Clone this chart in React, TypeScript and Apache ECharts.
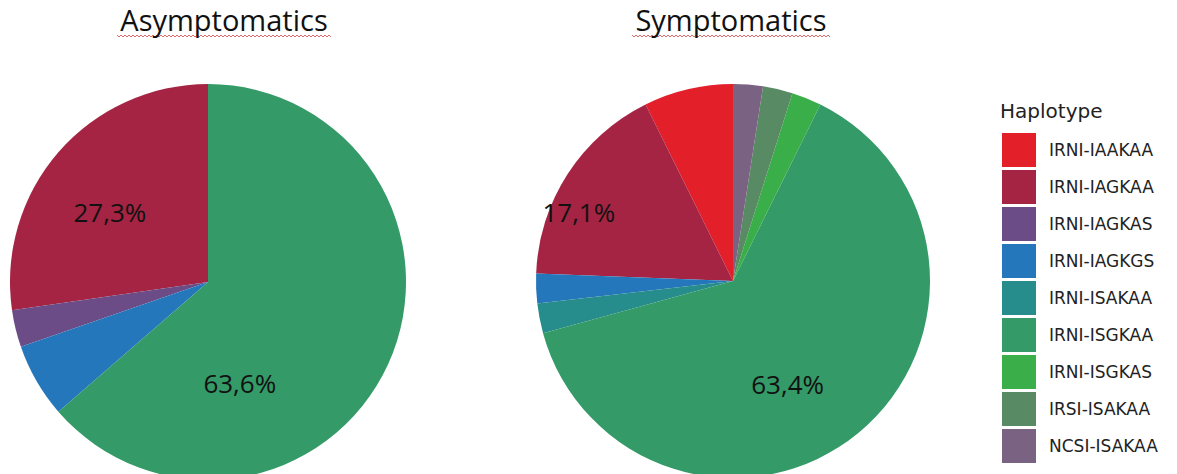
import React, { useEffect, useRef } from "react";
import * as echarts from "echarts";

const haplotypes = [
  "IRNI-IAAKAA",
  "IRNI-IAGKAA",
  "IRNI-IAGKAS",
  "IRNI-IAGKGS",
  "IRNI-ISAKAA",
  "IRNI-ISGKAA",
  "IRNI-ISGKAS",
  "IRSI-ISAKAA",
  "NCSI-ISAKAA",
];
const asymptomaticCounts = [0, 9, 1, 2, 0, 21, 0, 0, 0];
const symptomaticCounts = [3, 7, 0, 1, 1, 26, 1, 1, 1];
const panelTitles = ["Asymptomatics", "Symptomatics"];
const legendTitle = "Haplotype";

const colors = [
  "#e3202a",
  "#a52443",
  "#6b4c86",
  "#2477bb",
  "#268c8c",
  "#349a68",
  "#3aae49",
  "#588b63",
  "#7a6282",
];

// label nudges (style only)
const labelOffsets: Record<string, number[]>[] = [
  { "IRNI-IAGKAA": [-21, -3], "IRNI-ISGKAA": [-61, 59] },
  { "IRNI-IAGKAA": [-69, -14], "IRNI-ISGKAA": [-10, 25] },
];

function zigzag(x0: number, x1: number, y: number) {
  const pts: number[][] = [];
  let up = true;
  for (let x = x0; x <= x1; x += 2) {
    pts.push([x, up ? y : y + 2]);
    up = !up;
  }
  return pts;
}

export default function App() {
  const ref = useRef<HTMLDivElement>(null);
  useEffect(() => {
    if (!ref.current) return;
    const chart = echarts.init(ref.current, null, { renderer: "svg" });
    const makeData = (counts: number[], idx: number) =>
      haplotypes.map((name, i) => {
        const off = labelOffsets[idx][name];
        return {
          name,
          value: counts[i],
          itemStyle: { color: colors[i] },
          label: off ? { offset: off } : undefined,
        };
      });
    const pieBase = {
      type: "pie",
      radius: 198,
      startAngle: 90,
      clockwise: false,
      avoidLabelOverlap: false,
      minAngle: 0,
      emphasis: { disabled: true },
      itemStyle: { borderWidth: 0 },
      labelLine: { show: false },
      label: {
        show: true,
        position: "inside",
        fontFamily: "Open Sans",
        fontSize: 26,
        color: "#111",
        formatter: (p: any) =>
          p.percent > 10 ? p.percent.toFixed(1).replace(".", ",") + "%" : "",
      },
    };
    const titleStyle = { fontFamily: "Open Sans", fontSize: 29, fontWeight: "normal", color: "#111" };
    chart.setOption({
      animation: false,
      title: [
        { text: panelTitles[0], left: 224, top: 5, padding: 0, textAlign: "center", textStyle: titleStyle },
        { text: panelTitles[1], left: 731, top: 5, padding: 0, textAlign: "center", textStyle: titleStyle },
      ],
      legend: {
        orient: "vertical",
        left: 1002,
        top: 133,
        padding: 0,
        itemWidth: 34,
        itemHeight: 34,
        itemGap: 3,
        icon: "rect",
        selectedMode: false,
        data: haplotypes,
        textStyle: { fontFamily: "DejaVu Sans", fontSize: 17, color: "#222", padding: [0, 0, 0, 8] },
      },
      graphic: [
        {
          type: "text",
          left: 1000,
          top: 101,
          style: { text: legendTitle, fontFamily: "DejaVu Sans", fontSize: 20, fill: "#222" },
        },
        {
          type: "polyline",
          shape: { points: zigzag(117, 331, 35) },
          style: { stroke: "#e06a6a", lineWidth: 1, fill: "none" },
          silent: true,
        },
        {
          type: "polyline",
          shape: { points: zigzag(632, 830, 35) },
          style: { stroke: "#e06a6a", lineWidth: 1, fill: "none" },
          silent: true,
        },
      ],
      series: [
        { ...pieBase, name: panelTitles[0], center: [208, 282], data: makeData(asymptomaticCounts, 0) },
        { ...pieBase, name: panelTitles[1], center: [733, 281], radius: 197, data: makeData(symptomaticCounts, 1) },
      ],
    });
    return () => chart.dispose();
  }, []);
  return (
    <div
      ref={ref}
      style={{ position: "fixed", left: 0, top: 0, width: 1177, height: 474, background: "#fff" }}
    />
  );
}
